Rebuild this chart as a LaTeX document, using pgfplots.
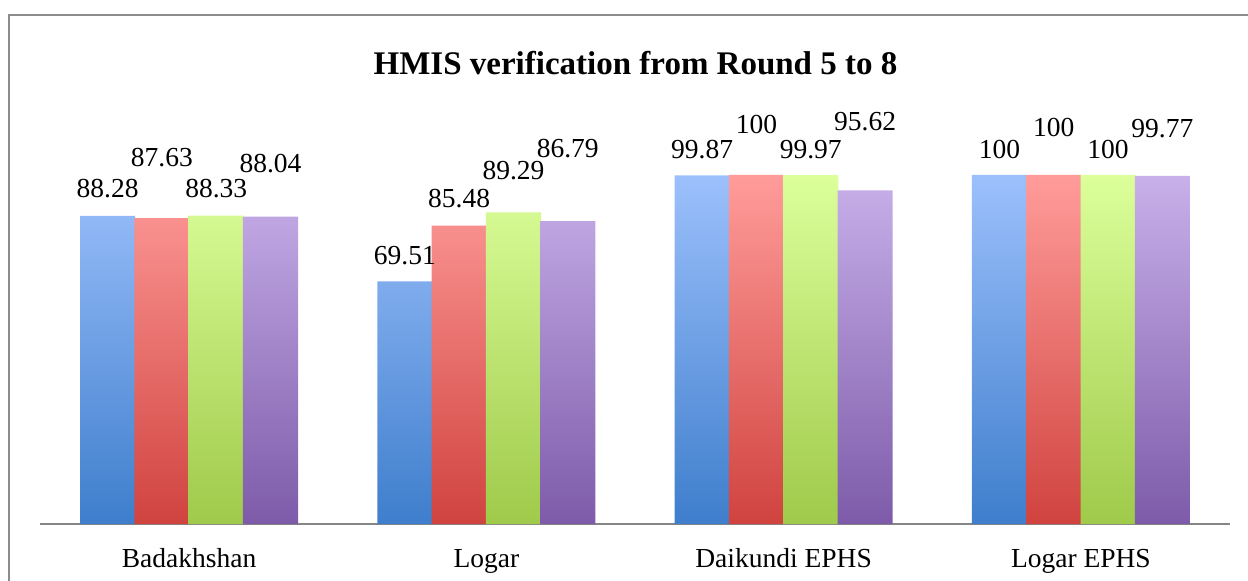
\documentclass[border=0pt]{standalone}
\usepackage{fontspec}
\setmainfont{Liberation Serif}
\usepackage{pgfplots}
\pgfplotsset{compat=1.18}
\usepackage{pgfplotstable}

\definecolor{bluetop}{HTML}{9CC0FC}
\definecolor{bluebot}{HTML}{3E7ECC}
\definecolor{redtop}{HTML}{FF9C9A}
\definecolor{redbot}{HTML}{D0433F}
\definecolor{greentop}{HTML}{DCFF9B}
\definecolor{greenbot}{HTML}{9FCA4A}
\definecolor{purptop}{HTML}{C8B0EA}
\definecolor{purpbot}{HTML}{7D5BA9}
\definecolor{bordergray}{HTML}{8C8C8C}
\definecolor{axisgray}{HTML}{868686}

\pgfplotstableread{
x y dy
0 88.28 27
1 69.51 25.4
2 99.87 26.4
3 100 26
}\seriesA
\pgfplotstableread{
x y dy
0 87.63 60.5
1 85.48 26.7
2 100 50.5
3 100 47.5
}\seriesB
\pgfplotstableread{
x y dy
0 88.33 26.7
1 89.29 41.4
2 99.97 26
3 100 26
}\seriesC
\pgfplotstableread{
x y dy
0 88.04 52.7
1 86.79 73
2 95.62 68.3
3 99.77 46.8
}\seriesD

\begin{document}
\begin{tikzpicture}
\useasboundingbox (0,0) rectangle (1248pt,581pt);
\draw[line width=1.5pt, color=bordergray] (9pt,0pt) -- (9pt,566pt) -- (1248pt,566pt);
\node[font=\fontsize{33}{40}\selectfont\bfseries, anchor=base] at (635.5pt,506pt) {HMIS verification from Round 5 to 8};
\begin{axis}[
  at={(40.4pt,57pt)}, anchor=south west,
  scale only axis, width=1189.2pt, height=418.8pt,
  xmin=-0.5, xmax=3.5, ymin=0, ymax=120,
  ybar=-0.8pt, bar width=55.1pt,
  axis y line=none, axis x line=bottom,
  x axis line style={-, draw=axisgray, line width=1.2pt},
  xtick={0,1,2,3},
  xticklabels={Badakhshan, Logar, Daikundi EPHS, Logar EPHS},
  major tick length=0pt,
  xticklabel style={font=\fontsize{27.5}{33}\selectfont, anchor=base, yshift=-43pt},
  clip=false,
  nodes near coords,
  visualization depends on={\thisrow{dy} \as \dyy},
  every node near coord/.append style={font=\fontsize{27.5}{33}\selectfont, anchor=center, inner sep=0pt, yshift=\dyy pt},
  /pgf/number format/assume math mode=true,
]
\addplot[draw=none, top color=bluetop, bottom color=bluebot] table[x=x,y=y] {\seriesA};
\addplot[draw=none, top color=redtop, bottom color=redbot] table[x=x,y=y] {\seriesB};
\addplot[draw=none, top color=greentop, bottom color=greenbot] table[x=x,y=y] {\seriesC};
\addplot[draw=none, top color=purptop, bottom color=purpbot] table[x=x,y=y] {\seriesD};
\end{axis}
\end{tikzpicture}
\end{document}
